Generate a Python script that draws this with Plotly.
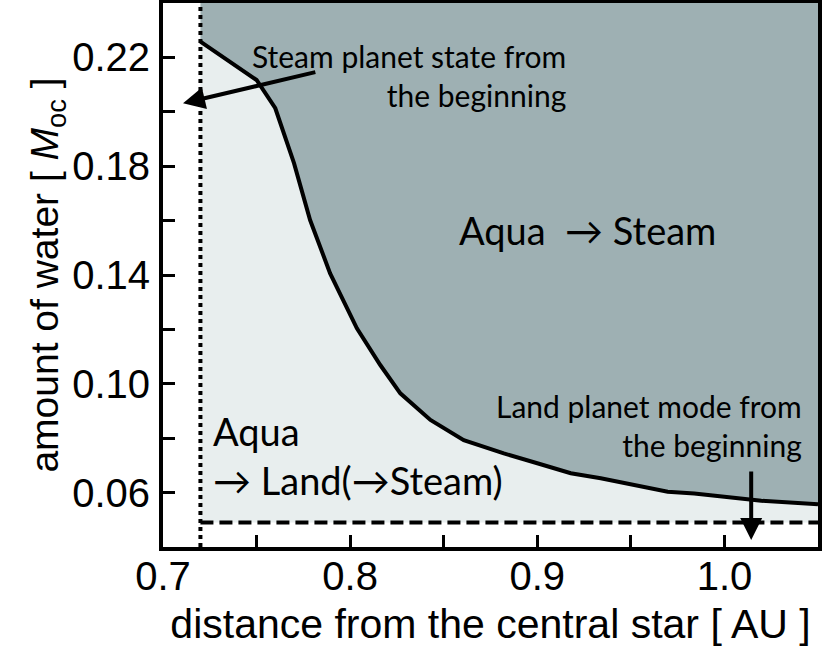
import plotly.graph_objects as go

# boundary between the two regimes
curve_x = [0.72, 0.75, 0.76, 0.77, 0.7786, 0.7893, 0.8036, 0.8161, 0.8268, 0.8429,
           0.8607, 0.8821, 0.90, 0.9179, 0.9339, 0.9518, 0.9697, 0.9839, 1.0018,
           1.0197, 1.05]
curve_y = [0.2258, 0.2117, 0.2013, 0.1811, 0.1602, 0.1406, 0.1204, 0.1069, 0.0965,
           0.0867, 0.0793, 0.0744, 0.0708, 0.0671, 0.0653, 0.0628, 0.0603, 0.0597,
           0.0583, 0.0570, 0.0557]

inner_edge = 0.72      # AU, steam planet from the beginning (dotted)
water_floor = 0.049    # M_oc, land planet from the beginning (dashed)
y_top = 0.24

x_ticks = [0.7, 0.8, 0.9, 1.0]
x_labels = ["0.7", "0.8", "0.9", "1.0"]
y_ticks = [0.06, 0.10, 0.14, 0.18, 0.22]
y_labels = ["0.06", "0.10", "0.14", "0.18", "0.22"]

light = "#e8eeee"
dark = "#9eb0b3"
small_font = dict(family="Lato", size=30, color="black")
big_font = dict(family="Lato", size=38, color="black")

fig = go.Figure()
fig.add_trace(go.Scatter(x=curve_x, y=[water_floor] * len(curve_x), mode="lines",
                         line=dict(width=0), hoverinfo="skip"))
fig.add_trace(go.Scatter(x=curve_x, y=curve_y, mode="lines", line=dict(width=0),
                         fill="tonexty", fillcolor=light, hoverinfo="skip"))
fig.add_trace(go.Scatter(x=curve_x, y=[y_top] * len(curve_x), mode="lines",
                         line=dict(width=0), fill="tonexty", fillcolor=dark,
                         hoverinfo="skip"))
fig.add_trace(go.Scatter(x=curve_x, y=curve_y, mode="lines",
                         line=dict(color="black", width=4)))
fig.add_trace(go.Scatter(x=[inner_edge, 1.05], y=[water_floor, water_floor], mode="lines",
                         line=dict(color="black", width=4, dash="13px,6px")))
fig.add_trace(go.Scatter(x=[inner_edge, inner_edge], y=[0.04, y_top], mode="lines",
                         line=dict(color="black", width=4, dash="4px,4px")))

# arrows
fig.add_annotation(x=0.7107, y=0.2031, ax=0.7822, ay=0.2147, xref="x", yref="y",
                   axref="x", ayref="y", text="", showarrow=True, arrowhead=2,
                   arrowsize=1.1, arrowwidth=4, arrowcolor="black")
fig.add_annotation(x=1.0143, y=0.0426, ax=1.0143, ay=0.0683, xref="x", yref="y",
                   axref="x", ayref="y", text="", showarrow=True, arrowhead=2,
                   arrowsize=1.1, arrowwidth=4, arrowcolor="black")

# labels
fig.add_annotation(x=0.9165, y=0.2135, text="Steam planet state from<br>the beginning",
                   showarrow=False, font=small_font, align="right", xanchor="right")
fig.add_annotation(x=1.0427, y=0.0845, text="Land planet mode from<br>the beginning",
                   showarrow=False, font=small_font, align="right", xanchor="right")
fig.add_annotation(x=0.927, y=0.1565, text="Aqua  \u2192 Steam", showarrow=False,
                   font=big_font)
fig.add_annotation(x=0.7255, y=0.0735, text="Aqua<br>\u2192 Land(\u2192Steam)",
                   showarrow=False, font=big_font, align="left", xanchor="left")

axis_common = dict(showline=True, linecolor="black", linewidth=4, mirror=True,
                   ticks="inside", ticklen=12, tickwidth=3, tickcolor="black",
                   showgrid=False, zeroline=False, automargin=False,
                   tickfont=dict(family="Liberation Sans", size=40, color="black"))

fig.update_xaxes(range=[0.7, 1.05], tickvals=x_ticks, ticktext=x_labels,
                 minor=dict(ticks="inside", dtick=0.05, tick0=0.7, ticklen=12,
                            tickwidth=3, tickcolor="black"),
                 title_text="distance from the central star [ AU ]", title_standoff=13,
                 title_font=dict(family="Liberation Sans", size=41, color="black"),
                 ticklabelstandoff=-9, **axis_common)
fig.update_yaxes(range=[0.04, y_top], tickvals=y_ticks, ticktext=y_labels,
                 minor=dict(ticks="inside", dtick=0.02, tick0=0.04, ticklen=12,
                            tickwidth=3, tickcolor="black"),
                 title_text="amount of water [ <i>M</i><sub>oc</sub> ]", title_standoff=0,
                 title_font=dict(family="Liberation Sans", size=39, color="black"),
                 ticklabelstandoff=1, **axis_common)

fig.update_layout(width=829, height=655, margin=dict(l=163, r=11, t=3, b=108),
                  plot_bgcolor="white", paper_bgcolor="white", showlegend=False)

# drop the browser's default 8px body margin so the figure sits at the page corner
fig.write_html("out.html", config={"displayModeBar": False},
               post_script="document.body.style.margin='0';")
